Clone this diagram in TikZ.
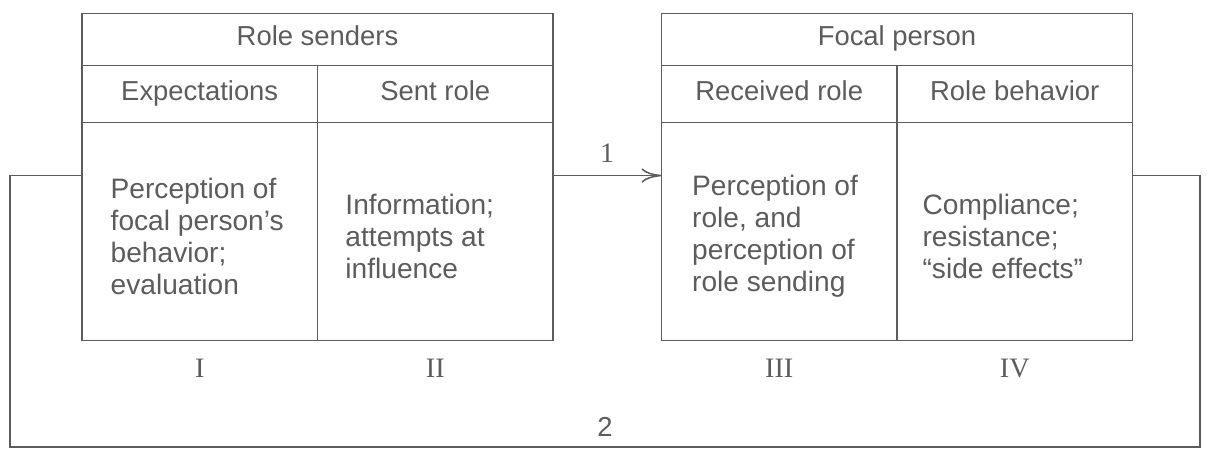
\documentclass[tikz,border=0pt]{standalone}
\usepackage{fontspec}
\setmainfont{Liberation Serif}
\setsansfont{Liberation Sans}
\usepackage{xcolor}
\usepackage{tikz}
\usetikzlibrary{positioning}
\usetikzlibrary{arrows.meta}
\definecolor{ink}{HTML}{5C5C5C}
\tikzstyle{head} = [draw=ink, outer sep=0pt, inner sep=0pt,
	minimum width = 11.775cm,
	minimum height = 1.3cm,
	text height=1.08em, text depth=0.21em,
	text=ink, font=\sffamily\fontsize{19.5}{23}\selectfont]
\tikzstyle{cell} = [head,
	minimum width = 5.8875cm,
	minimum height = 1.425cm]
\tikzstyle{body} = [cell, minimum height = 5.45cm]
\tikzstyle{txt} = [anchor=west, align=left, inner sep=0pt, text=ink,
	font=\sffamily\fontsize{20}{22.8}\selectfont]
\tikzstyle{num} = [inner sep=0pt, text=ink, font=\rmfamily\fontsize{20}{24}\selectfont]
\tikzstyle{arrow} = [-{To[length=5mm, width=3.6mm]}]

\begin{document}
\begin{tikzpicture}[x=0.025cm, y=-0.025cm, line width=1.1pt, draw=ink]
	\useasboundingbox (0,0) rectangle (1207,449);
	% role senders
	\node (rs) [head] at (317.5,39.5) {Role senders};
	\node (exp) [cell, below right=0pt of rs.south west] {Expectations};
	\node (sent) [cell, right=0pt of exp] {Sent role};
	\node (c1) [body, below=0pt of exp] {};
	\node (c2) [body, below=0pt of sent] {};
	\node (t1) [txt, right=0.7cm of c1.west, yshift=-0.12cm] {Perception of\\focal person's\\behavior;\\evaluation};
	\node (t2) [txt, right=0.68cm of c2.west, yshift=-0.12cm] {Information;\\attempts at\\influence};
	\node (n1) [num, below=0.45cm of c1] {I};
	\node (n2) [num, below=0.45cm of c2] {II};
	
	% focal person
	\node (fp) [head] at (897,39.5) {Focal person};
	\node (rec) [cell, below right=0pt of fp.south west] {Received role};
	\node (beh) [cell, right=0pt of rec] {Role behavior};
	\node (c3) [body, below=0pt of rec] {};
	\node (c4) [body, below=0pt of beh] {};
	\node (t3) [txt, right=0.75cm of c3.west, yshift=-0.12cm] {Perception of\\role, and\\perception of\\role sending};
	\node (t4) [txt, right=0.62cm of c4.west, yshift=-0.12cm] {Compliance;\\resistance;\\``side effects''};
	\node (n3) [num, below=0.45cm of c3] {III};
	\node (n4) [num, below=0.45cm of c4] {IV};
	
	\coordinate (fl) at (10,447);
	\coordinate (fr) at (1200,447);
	\draw [arrow] ([yshift=1.4cm]c2.east) -- ([yshift=1.4cm]c3.west)
		node (one) [num, midway, above=0.3cm] {1};
	\draw ([yshift=1.4cm]c4.east) -| (fr) -- (fl)
		node (two) [midway, above=0.12cm, text=ink, font=\sffamily\fontsize{19.5}{22}\selectfont] {2}
		|- ([yshift=1.4cm]c1.west);
\end{tikzpicture}
\end{document}
